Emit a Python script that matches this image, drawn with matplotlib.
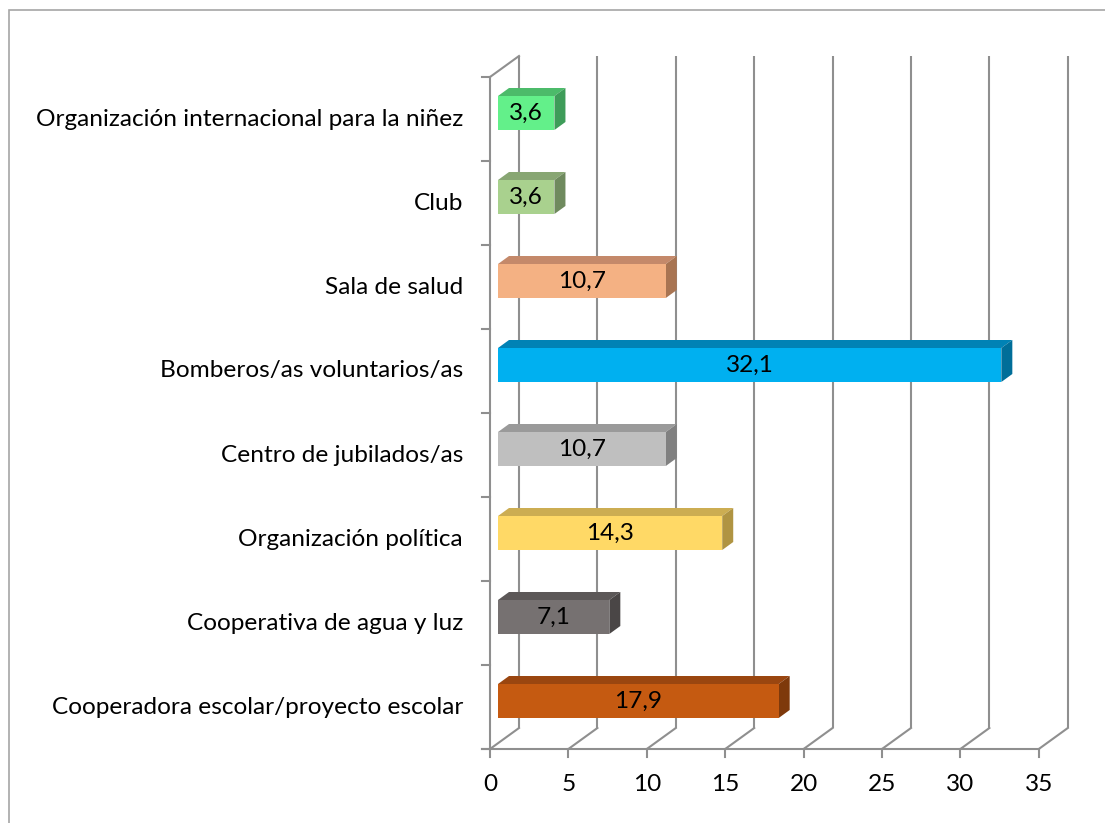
import matplotlib
matplotlib.use("Agg")
import matplotlib.pyplot as plt
from matplotlib.patches import Polygon, Rectangle

categories = [
    "Cooperadora escolar/proyecto escolar",
    "Cooperativa de agua y luz",
    "Organización política",
    "Centro de jubilados/as",
    "Bomberos/as voluntarios/as",
    "Sala de salud",
    "Club",
    "Organización internacional para la niñez",
]
values = [17.9, 7.1, 14.3, 10.7, 32.1, 10.7, 3.6, 3.6]
value_labels = ["17,9", "7,1", "14,3", "10,7", "32,1", "10,7", "3,6", "3,6"]
front_colors = ["#C55A11", "#767171", "#FFD966", "#BFBFBF", "#00B0F0", "#F4B183", "#A9D18E", "#63F08A"]
top_colors = ["#9A4610", "#5C5858", "#CCAD52", "#9A9A9A", "#0082B5", "#C4896A", "#88A673", "#4CBB6A"]
side_colors = ["#7E390B", "#4A4646", "#B09442", "#808080", "#006E99", "#A87452", "#6F8A5E", "#3E9C59"]
x_ticks = [0, 5, 10, 15, 20, 25, 30, 35]

FONT = "Lato"
FS = 17.6
GRID = "#8F8F8F"
LW = 1.5

W, H = 1105, 823
fig = plt.figure(figsize=(W / 100, H / 100), dpi=100)
ax = fig.add_axes([0, 0, 1, 1])
ax.set_axis_off()

# pixel mapping: x value 0 -> px 490, 15.68 px/unit; category c centre -> py = 707 - 84c
PXU = 15.68
X0 = 490
ax.set_xlim((0 - X0) / PXU, (W - X0) / PXU)
ax.set_ylim((707 - H) / 84, 707 / 84)

DX, DY = 29 / PXU, 21 / 84          # depth of plot box
BX0, BY0 = 8 / PXU, 6 / 84          # bar front face offset
BDX, BDY = 11 / PXU, 8 / 84         # bar depth
BH = 34 / 84                        # bar height
TICK_X = 8 / PXU
TICK_Y = 8 / 84

n = len(categories)
ymin, ymax = -0.5, n - 0.5

# outer border
fig.add_artist(Rectangle((9 / W, -0.01), 1.1, (H - 10) / H + 0.01, transform=fig.transFigure,
                         fill=False, edgecolor="#A6A6A6", linewidth=1.2))

# back wall vertical gridlines
for xv in x_ticks:
    ax.plot([xv + DX, xv + DX], [ymin + DY, ymax + DY], color=GRID, lw=LW, solid_capstyle="butt", zorder=1)
    # floor diagonals
    ax.plot([xv, xv + DX], [ymin, ymin + DY], color=GRID, lw=LW, zorder=1)
    # bottom ticks
    ax.plot([xv, xv], [ymin, ymin - TICK_Y], color=GRID, lw=LW, zorder=1)
    ax.text(xv, -0.917, str(xv), ha="center", va="center", fontsize=FS, family=FONT, color="#000000")

# floor front edge
ax.plot([-TICK_X, x_ticks[-1]], [ymin, ymin], color=GRID, lw=LW, zorder=1)
# left wall
ax.plot([0, 0], [ymin, ymax], color=GRID, lw=LW, zorder=1)
ax.plot([0, DX], [ymax, ymax + DY], color=GRID, lw=LW, zorder=1)
for i in range(n + 1):
    yb = i - 0.5
    ax.plot([-TICK_X, 0], [yb, yb], color=GRID, lw=LW, zorder=1)

# bars
for i, (v, lab) in enumerate(zip(values, value_labels)):
    x0 = BX0
    x1 = BX0 + v
    yb = i + BY0 - BH / 2
    yt = i + BY0 + BH / 2
    ax.add_patch(Polygon([(x0, yt), (x1, yt), (x1 + BDX, yt + BDY), (x0 + BDX, yt + BDY)],
                         closed=True, facecolor=top_colors[i], edgecolor="none", zorder=3))
    ax.add_patch(Polygon([(x1, yb), (x1 + BDX, yb + BDY), (x1 + BDX, yt + BDY), (x1, yt)],
                         closed=True, facecolor=side_colors[i], edgecolor="none", zorder=3))
    ax.add_patch(Rectangle((x0, yb), v, BH, facecolor=front_colors[i], edgecolor="none", zorder=4))
    ax.text(x0 + v / 2, i + BY0, lab, ha="center", va="center", fontsize=FS, family=FONT,
            color="#000000", zorder=5)
    ax.text(-27 / PXU, i, categories[i], ha="right", va="center", fontsize=FS, family=FONT,
            color="#000000")

fig.savefig("out.png", dpi=100)
